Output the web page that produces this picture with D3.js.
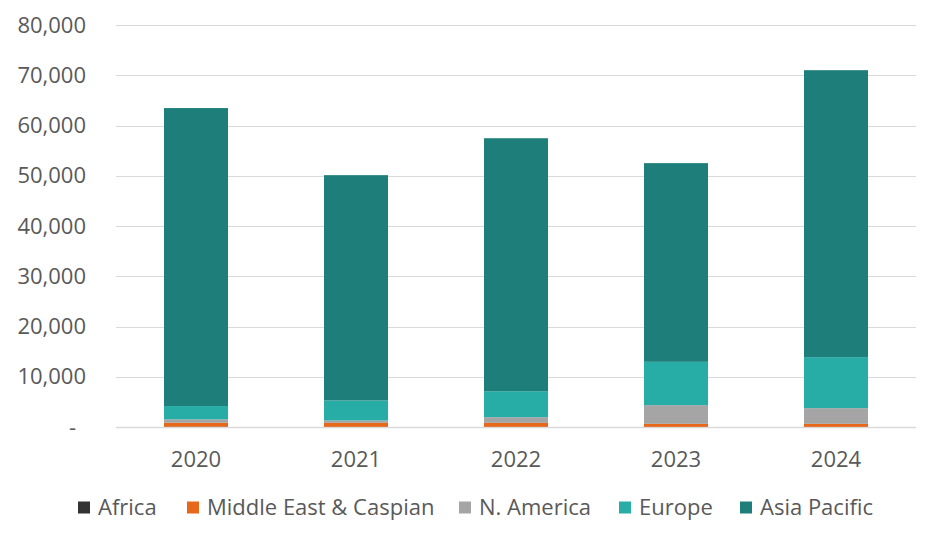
<!DOCTYPE html>
<html>
<head>
<meta charset="utf-8">
<script src="https://cdn.jsdelivr.net/npm/d3@7"></script>
<style>
	body { margin: 0; background: #fff; }
	text { font-family: "Open Sans", "Noto Sans", sans-serif; fill: #595959; }
</style>
</head>
<body>
<svg id="chart" width="940" height="541"></svg>
<script>
var years = ["2020", "2021", "2022", "2023", "2024"];
var regions = ["Africa", "Middle East & Caspian", "N. America", "Europe", "Asia Pacific"];
var africa = [60, 40, 40, 30, 30];
var middleEast = [780, 780, 780, 600, 600];
var nAmerica = [680, 480, 1130, 3720, 3120];
var europe = [2650, 3980, 5170, 8620, 10150];
var asiaPacific = [59300, 44840, 50350, 39540, 57110];
var yTicks = [0, 10000, 20000, 30000, 40000, 50000, 60000, 70000, 80000];

var colors = ["#333333", "#e8681a", "#a5a5a5", "#27aca6", "#1e7f7a"];
var seriesValues = [africa, middleEast, nAmerica, europe, asiaPacific];

var rows = years.map(function(y, i) {
	var r = { year: y };
	regions.forEach(function(k, j) { r[k] = seriesValues[j][i]; });
	return r;
});

var svg = d3.select("#chart");
var plotLeft = 116, plotRight = 916, plotTop = 25, plotBottom = 427;

var x = d3.scaleBand().domain(years).range([plotLeft, plotRight]).paddingInner(0.6).paddingOuter(0.3);
var y = d3.scaleLinear().domain([0, 80000]).range([plotBottom, plotTop]);

// gridlines
svg.append("g")
	.selectAll("line")
	.data(yTicks)
	.join("line")
	.attr("x1", plotLeft)
	.attr("x2", plotRight)
	.attr("y1", function(d) { return Math.round(y(d)) + 0.5; })
	.attr("y2", function(d) { return Math.round(y(d)) + 0.5; })
	.attr("stroke", "#d9d9d9")
	.attr("stroke-width", function(d) { return d === 0 ? 1.5 : 1; });

// y labels
svg.append("g")
	.selectAll("text")
	.data(yTicks)
	.join("text")
	.attr("x", function(d) { return d === 0 ? 76 : 86; })
	.attr("y", function(d) { return y(d); })
	.attr("dy", "0.35em")
	.attr("text-anchor", "end")
	.style("font-size", "22px")
	.text(function(d) { return d === 0 ? "-" : d3.format(",")(d); });

var stack = d3.stack().keys(regions)(rows);

svg.append("g")
	.selectAll("g")
	.data(stack)
	.join("g")
	.attr("fill", function(d, i) { return colors[i]; })
	.selectAll("rect")
	.data(function(d) { return d; })
	.join("rect")
	.attr("x", function(d) { return x(d.data.year); })
	.attr("width", x.bandwidth())
	.attr("y", function(d) { return y(d[1]); })
	.attr("height", function(d) { return y(d[0]) - y(d[1]); });

// x labels
svg.append("g")
	.selectAll("text")
	.data(years)
	.join("text")
	.attr("x", function(d) { return x(d) + x.bandwidth() / 2; })
	.attr("y", 459)
	.attr("dy", "0.35em")
	.attr("text-anchor", "middle")
	.style("font-size", "22px")
	.text(function(d) { return d; });

// legend
var legendX = [98, 207, 479, 639, 760];
var legend = svg.append("g")
	.selectAll("g")
	.data(regions)
	.join("g")
	.attr("transform", function(d, i) { return "translate(" + legendX[i] + ",507)"; });

legend.append("rect")
	.attr("x", -20)
	.attr("y", -5.5)
	.attr("width", 12)
	.attr("height", 12)
	.attr("fill", function(d, i) { return colors[i]; });

legend.append("text")
	.attr("x", 0)
	.attr("y", 0)
	.attr("dy", "0.35em")
	.style("font-size", "22px")
	.text(function(d) { return d; });
</script>
</body>
</html>
